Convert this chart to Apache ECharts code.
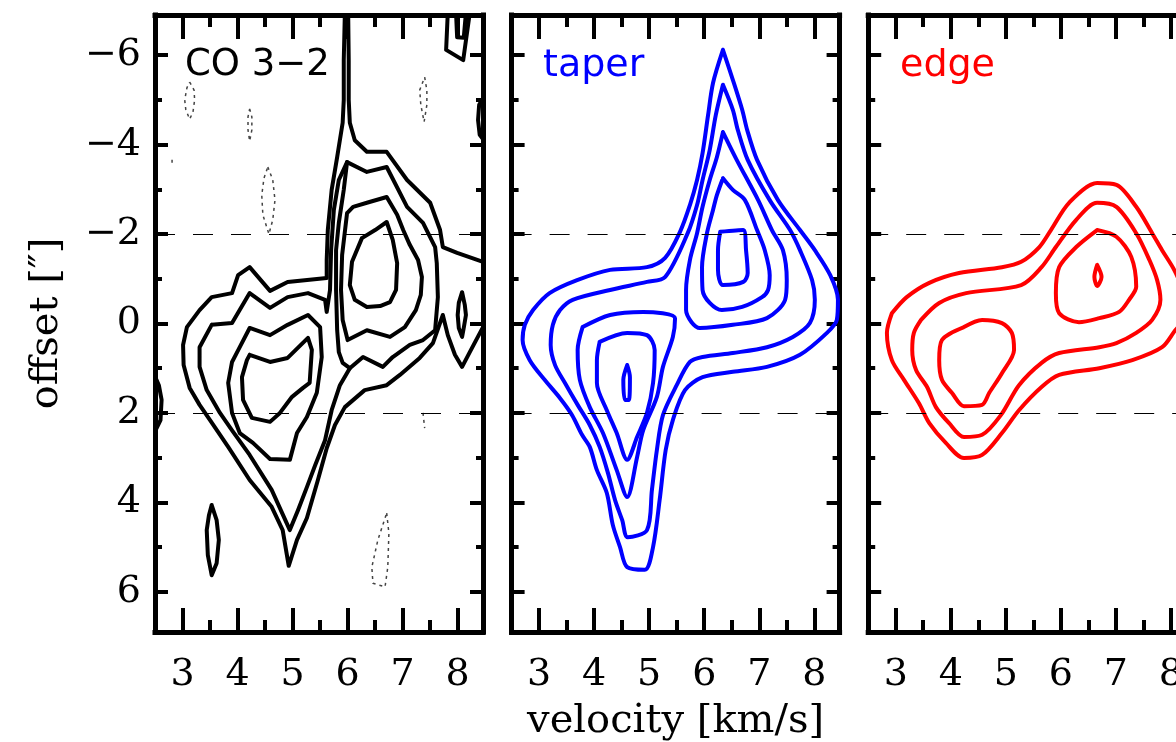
<!DOCTYPE html>
<html>
<head>
<meta charset="utf-8">
<script src="https://cdn.jsdelivr.net/npm/echarts@6/dist/echarts.min.js"></script>
<style>
  html, body { margin: 0; padding: 0; background: #fff; }
  #chart { width: 1176px; height: 742px; }
</style>
</head>
<body>
<div id="chart"></div>
<script>
// ---- Axis definitions -------------------------------------------------
const velocityRange = [2.5, 8.46];          // km/s
const offsetRange = [-6.9, 6.9];            // arcsec
const velocityTicks = [3, 4, 5, 6, 7, 8];
const velocityMinorTicks = [3.5, 4.5, 5.5, 6.5, 7.5];
const offsetTicks = [-6, -4, -2, 0, 2, 4, 6];
const offsetMinorTicks = [-5, -3, -1, 1, 3, 5];
const guideOffsets = [-2, 2];
const panelTitles = ['CO 3\u22122', 'taper', 'edge'];
const panelColors = ['#000000', '#0000ff', '#ff0000'];

// ---- CO 3-2 position-velocity contours: [velocity, offset] -------------
const co_l1 = [[8.46,-1.38],[7.99,-1.58],[7.73,-1.71],[7.68,-2.09],[7.50,-2.70],[7.08,-3.21],[6.71,-3.84],[6.35,-3.84],[6.13,-4.10],[6.04,-4.49],[6.02,-5.00],[6.02,-5.89],[6.01,-6.95],
  [5.95,-6.95],[5.93,-5.89],[5.93,-5.00],[5.91,-4.49],[5.81,-3.72],[5.71,-2.99],[5.64,-2.09],[5.62,-1.42],[5.62,-1.02],
  [4.91,-0.93],[4.59,-0.73],[4.22,-1.26],[4.01,-1.08],[3.90,-0.68],[3.53,-0.59],[3.31,-0.30],[3.08,0.08],[3.01,0.48],[3.02,0.93],[3.13,1.44],[3.31,1.82],[3.50,2.16],[3.83,2.76],[4.22,3.50],[4.62,4.10],[4.82,4.62],[4.93,5.42],
  [5.08,4.84],[5.26,4.35],[5.46,3.50],[5.62,2.79],[5.77,2.27],[5.95,1.87],[6.31,1.49],[6.71,1.38],[6.95,1.15],[7.31,0.77],[7.55,0.44],[7.73,-0.19],[7.82,0.26],[7.95,0.70],[8.08,0.97],[8.22,0.64],[8.46,0.08]];
const co_l2 = [[3.53,0.03],[3.90,-0.01],[4.22,-0.68],[4.59,-0.35],[4.91,-0.59],[5.28,-0.68],[5.59,-0.53],[5.62,-0.26],
  [5.68,-0.75],[5.70,-1.64],[5.75,-2.54],[5.84,-3.21],[5.99,-3.61],
  [6.35,-3.39],[6.71,-3.50],[7.08,-2.61],[7.37,-2.25],[7.59,-1.71],[7.62,-1.35],[7.64,-0.59],[7.59,0.15],[7.37,0.37],[7.13,0.48],[6.82,0.75],[6.64,0.97],[6.28,0.75],[6.04,1.00],
  [5.86,1.38],[5.71,1.94],[5.59,2.61],[5.41,3.17],[5.26,3.66],[5.10,4.17],[4.95,4.62],
  [4.62,3.72],[4.22,2.94],[3.90,2.39],[3.68,2.00],[3.44,1.49],[3.31,0.97],[3.31,0.53],[3.53,0.03]];
const co_l2_neck = [[5.99,-3.61],[5.93,-2.99],[5.84,-2.25],[5.79,-1.64],[5.79,-0.75],[5.81,0.15],[5.84,0.64],[5.91,0.88],[6.04,1.00]];
const co_l3_red = [[5.99,-2.47],[6.10,-2.61],[6.35,-2.70],[6.71,-2.83],[6.90,-2.43],[7.01,-2.09],[7.13,-1.76],[7.28,-1.42],[7.35,-1.04],[7.33,-0.64],[7.24,-0.30],[7.04,0.08],[6.77,0.30],[6.35,0.15],[6.00,0.37],[5.91,-0.08],[5.88,-0.75],[5.90,-1.53],[5.99,-2.47]];
const co_l4_red = [[6.26,-1.91],[6.50,-2.09],[6.71,-2.27],[6.82,-1.87],[6.90,-1.35],[6.88,-0.75],[6.77,-0.48],[6.59,-0.39],[6.35,-0.37],[6.13,-0.53],[6.04,-0.86],[6.08,-1.38],[6.26,-1.91]];
const co_l3_blue = [[4.22,0.10],[4.59,0.26],[4.91,0.03],[5.28,-0.19],[5.50,0.08],[5.53,0.75],[5.44,1.55],[5.26,2.09],[5.08,2.45],[4.95,3.05],[4.59,3.03],[4.28,2.67],[4.04,2.45],[3.90,2.00],[3.83,1.33],[3.90,0.86],[4.04,0.53],[4.22,0.10]];
const co_l4_blue = [[4.22,0.70],[4.59,0.86],[4.91,0.77],[5.28,0.32],[5.35,0.59],[5.31,1.33],[5.19,1.44],[4.99,1.64],[4.77,2.00],[4.59,2.20],[4.26,2.11],[4.10,1.71],[4.08,1.20],[4.17,0.82],[4.22,0.70]];
const co_knot_east = [[8.08,-0.70],[8.13,-0.41],[8.15,-0.19],[8.11,0.10],[8.08,0.30],[8.02,0.10],[8.00,-0.19],[8.02,-0.46],[8.08,-0.70]];
const co_knot_south = [[3.53,4.06],[3.62,4.40],[3.66,4.84],[3.62,5.36],[3.53,5.63],[3.46,5.18],[3.44,4.62],[3.48,4.29],[3.53,4.06]];
const co_rim_west = [[2.45,1.04],[2.57,1.38],[2.62,1.71],[2.60,2.16],[2.45,2.54]];
const co_corner_outer = [[7.82,-6.95],[7.79,-6.12],[8.10,-5.89],[8.22,-6.95]];
const co_corner_inner = [[7.97,-6.95],[7.99,-6.40],[8.11,-6.39],[8.15,-6.95]];
const co_rim_east = [[8.50,-5.11],[8.39,-4.89],[8.37,-4.55],[8.40,-4.22],[8.50,-4.06]];
// negative levels (dotted)
const co_neg1 = [[3.13,-5.40],[3.21,-5.22],[3.22,-5.00],[3.19,-4.73],[3.13,-4.57],[3.06,-4.78],[3.04,-5.00],[3.08,-5.27],[3.13,-5.40]];
const co_neg2 = [[4.22,-4.80],[4.26,-4.62],[4.26,-4.33],[4.22,-4.08],[4.19,-4.33],[4.19,-4.62],[4.22,-4.80]];
const co_neg3 = [[4.55,-3.50],[4.64,-3.21],[4.68,-2.76],[4.64,-2.32],[4.57,-2.00],[4.46,-2.43],[4.44,-2.87],[4.48,-3.25],[4.55,-3.50]];
const co_neg4 = [[7.40,-5.51],[7.44,-5.22],[7.44,-4.89],[7.39,-4.51],[7.33,-4.89],[7.31,-5.22],[7.40,-5.51]];
const co_neg5 = [[6.71,4.24],[6.75,4.69],[6.73,5.45],[6.68,5.89],[6.46,5.81],[6.44,5.45],[6.55,4.84],[6.71,4.24]];
const co_neg6 = [[7.37,2.00],[7.40,2.34]];
const co_neg7 = [[2.81,-3.66],[2.81,-3.52]];

// ---- "taper" model contours --------------------------------------------
const taper_1 = [[6.34,-6.12],[6.52,-5.45],[6.69,-4.78],[6.78,-4.33],[6.96,-3.66],[7.34,-2.76],[7.74,-2.09],[8.01,-1.64],[8.29,-1.08],[8.43,-0.53],[8.41,-0.08],[8.23,0.21],[7.74,0.70],[7.14,0.97],[6.52,1.08],[5.97,1.20],[5.65,1.49],[5.43,2.16],[5.30,2.83],[5.19,3.95],[5.07,5.00],[4.92,5.51],[4.60,5.45],[4.47,5.00],[4.34,4.51],[4.23,3.79],[4.05,3.28],[3.92,2.76],[3.78,2.49],[3.60,2.05],[3.38,1.67],[3.10,1.26],[2.83,0.82],[2.70,0.37],[2.74,0.03],[2.89,-0.30],[3.19,-0.68],[3.69,-0.97],[4.29,-1.20],[4.96,-1.26],[5.29,-1.47],[5.56,-2.05],[5.74,-2.65],[5.87,-3.21],[5.97,-3.81],[6.07,-4.66],[6.16,-5.38],[6.34,-6.12]];
const taper_2 = [[6.34,-5.34],[6.52,-4.78],[6.61,-4.33],[6.79,-3.66],[7.19,-2.76],[7.56,-2.09],[7.74,-1.64],[7.96,-0.97],[8.01,-0.53],[7.92,-0.01],[7.61,0.30],[7.14,0.53],[6.52,0.66],[5.97,0.75],[5.74,0.86],[5.50,1.38],[5.25,2.05],[5.14,2.83],[5.05,3.72],[4.96,4.62],[4.61,4.78],[4.51,4.40],[4.38,3.95],[4.25,3.34],[4.10,2.76],[3.92,2.27],[3.70,1.82],[3.47,1.33],[3.29,0.93],[3.21,0.48],[3.25,0.03],[3.38,-0.30],[3.61,-0.53],[4.29,-0.75],[4.96,-0.93],[5.29,-1.04],[5.70,-2.02],[5.87,-2.65],[5.97,-3.21],[6.10,-3.88],[6.21,-4.66],[6.34,-5.34]];
const taper_3 = [[6.34,-4.28],[6.59,-3.66],[6.98,-2.76],[7.23,-2.09],[7.43,-1.64],[7.50,-0.97],[7.47,-0.53],[7.14,-0.12],[6.52,0.03],[5.92,0.10],[5.77,-0.03],[5.67,-0.30],[5.67,-0.75],[5.74,-1.42],[5.87,-2.02],[5.97,-2.61],[6.10,-3.21],[6.23,-3.72],[6.34,-4.28]];
const taper_4 = [[6.34,-3.25],[6.52,-2.99],[6.74,-2.76],[6.96,-2.09],[7.10,-1.64],[7.19,-1.08],[7.16,-0.75],[7.05,-0.59],[6.69,-0.37],[6.32,-0.30],[6.10,-0.46],[5.97,-0.75],[5.96,-1.26],[6.05,-2.02],[6.16,-2.54],[6.23,-2.87],[6.34,-3.25]];
const taper_5 = [[6.29,-2.05],[6.71,-2.09],[6.76,-1.64],[6.79,-1.13],[6.71,-0.93],[6.34,-0.86],[6.25,-1.20],[6.25,-1.64],[6.29,-2.05]];
const taper_3b = [[3.79,0.08],[4.29,-0.19],[4.89,-0.26],[5.47,-0.12],[5.43,0.30],[5.25,0.97],[5.14,1.64],[4.89,2.39],[4.78,2.99],[4.60,3.88],[4.41,3.28],[4.16,2.45],[3.92,1.87],[3.74,1.26],[3.70,0.59],[3.79,0.08]];
const taper_4b = [[4.10,0.41],[4.60,0.21],[4.96,0.26],[5.10,0.59],[5.07,1.33],[4.96,2.00],[4.78,2.54],[4.60,3.05],[4.41,2.45],[4.23,1.94],[4.05,1.33],[4.05,0.82],[4.10,0.41]];
const taper_5b = [[4.60,0.93],[4.65,1.20],[4.63,1.71],[4.56,1.71],[4.53,1.26],[4.60,0.93]];

// ---- "edge" model contours ----------------------------------------------
const edge_1 = [[2.93,-0.23],[3.20,-0.59],[3.61,-0.91],[4.15,-1.13],[4.93,-1.26],[5.28,-1.38],[5.61,-1.71],[5.82,-2.09],[6.15,-2.70],[6.66,-3.14],[7.01,-3.10],[7.37,-2.61],[7.66,-2.02],[7.84,-1.64],[8.06,-1.20],[8.21,-0.75],[8.26,-0.30],[8.21,-0.03],[8.08,0.15],[7.84,0.53],[7.30,0.82],[6.70,1.00],[5.97,1.15],[5.65,1.42],[5.24,1.94],[4.93,2.45],[4.57,2.94],[4.24,3.01],[3.91,2.67],[3.61,2.23],[3.42,1.78],[3.15,1.26],[2.93,0.82],[2.84,0.21],[2.93,-0.23]];
const edge_2 = [[3.46,-0.08],[3.79,-0.46],[4.28,-0.68],[5.28,-0.86],[5.65,-1.26],[5.91,-1.71],[6.28,-2.32],[6.66,-2.70],[7.01,-2.61],[7.37,-2.02],[7.61,-1.42],[7.75,-0.97],[7.81,-0.53],[7.66,-0.08],[7.37,0.21],[7.01,0.44],[6.70,0.53],[5.97,0.66],[5.65,0.88],[5.24,1.38],[4.91,2.05],[4.57,2.49],[4.24,2.54],[3.97,2.23],[3.73,1.87],[3.57,1.42],[3.37,1.04],[3.30,0.59],[3.33,0.21],[3.46,-0.08]];
const edge_3 = [[6.66,-2.09],[7.01,-1.94],[7.28,-1.49],[7.37,-0.82],[7.24,-0.53],[7.06,-0.26],[6.70,-0.12],[6.33,-0.03],[5.97,-0.23],[5.91,-0.68],[5.97,-1.26],[6.28,-1.71],[6.66,-2.09]];
const edge_4 = [[6.66,-1.31],[6.74,-1.04],[6.66,-0.84],[6.61,-1.04],[6.66,-1.31]];
const edge_3b = [[4.24,0.08],[4.57,-0.08],[4.93,-0.01],[5.11,0.21],[5.15,0.59],[4.93,1.11],[4.70,1.55],[4.57,1.82],[4.24,1.85],[4.02,1.55],[3.84,1.26],[3.79,0.82],[3.84,0.37],[4.24,0.08]];

const panelSolid = [
  [co_l1, co_l2, co_l2_neck, co_l3_red, co_l4_red, co_l3_blue, co_l4_blue, co_knot_east, co_knot_south, co_rim_west, co_corner_outer, co_corner_inner, co_rim_east],
  [taper_1, taper_2, taper_3, taper_4, taper_5, taper_3b, taper_4b, taper_5b],
  [edge_1, edge_2, edge_3, edge_4, edge_3b]
];
const panelDotted = [
  [co_neg1, co_neg2, co_neg3, co_neg4, co_neg5, co_neg6, co_neg7],
  [],
  []
];
// observed contours are drawn as polygons, model contours are smoothed
const panelSmooth = [false, 0.3, 0.3];

// ---- Layout ---------------------------------------------------------------
const frameLeft = [155, 511.6, 868.2];
const frameTop = 15, frameW = 328, frameH = 617;
const SERIF = '"DejaVu Serif", "Liberation Serif", serif';
const SANS = '"DejaVu Sans", "Liberation Sans", sans-serif';

const minusFmt = v => (v < 0 ? '\u2212' + Math.abs(v) : String(v));

const grids = frameLeft.map(l => ({
  left: l, top: frameTop, width: frameW, height: frameH,
  outerBoundsMode: 'none', containLabel: false
}));

const xAxes = [];
const yAxes = [];
frameLeft.forEach((_, i) => {
  ['bottom', 'top'].forEach(pos => {
    [true, false].forEach(major => {
      const ax = {
        gridIndex: i, type: 'value', position: pos,
        min: velocityRange[0], max: velocityRange[1],
        axisLine: { show: major, onZero: false, lineStyle: { color: '#000', width: 5, cap: 'square' } },
        axisTick: { show: true, inside: true, length: major ? 24 : 12,
          customValues: major ? velocityTicks : velocityMinorTicks,
          lineStyle: { color: '#000', width: 4 } },
        axisLabel: { show: major && pos === 'bottom', customValues: velocityTicks,
          color: '#000', fontFamily: SERIF, fontSize: 38, margin: 24 },
        splitLine: { show: false }
      };
      if (major && pos === 'bottom' && i === 1) {
        ax.name = 'velocity [km/s]';
        ax.nameLocation = 'middle';
        ax.nameGap = 70;
        ax.nameTextStyle = { color: '#000', fontFamily: SERIF, fontSize: 40 };
      }
      xAxes.push(ax);
    });
  });
  ['left', 'right'].forEach(pos => {
    [true, false].forEach(major => {
      const ax = {
        gridIndex: i, type: 'value', position: pos, inverse: true,
        min: offsetRange[0], max: offsetRange[1],
        axisLine: { show: major, onZero: false, lineStyle: { color: '#000', width: 5, cap: 'square' } },
        axisTick: { show: true, inside: true, length: major ? 13 : 7,
          customValues: major ? offsetTicks : offsetMinorTicks,
          lineStyle: { color: '#000', width: 4 } },
        axisLabel: { show: major && pos === 'left' && i === 0, customValues: offsetTicks,
          formatter: minusFmt, color: '#000', fontFamily: SERIF, fontSize: 38, margin: 14,
          padding: [8, 0, 0, 0] },
        splitLine: { show: false }
      };
      if (major && pos === 'left' && i === 0) {
        ax.name = 'offset [\u2033]';
        ax.nameLocation = 'middle';
        ax.nameGap = 88;
        ax.nameTextStyle = { color: '#000', fontFamily: SERIF, fontSize: 40 };
      }
      yAxes.push(ax);
    });
  });
});

// ---- Series ----------------------------------------------------------------
const series = [];
panelSolid.forEach((list, i) => {
  list.forEach((pts, k) => {
    const s = {
      type: 'line', xAxisIndex: 4 * i, yAxisIndex: 4 * i,
      data: pts, symbol: 'none', showSymbol: false, smooth: panelSmooth[i],
      silent: true, animation: false, clip: true, z: 3,
      lineStyle: { color: panelColors[i], width: 4, join: 'round', cap: 'round' }
    };
    if (k === 0) {
      s.markLine = {
        silent: true, animation: false, symbol: ['none', 'none'],
        label: { show: false },
        lineStyle: { color: '#000', width: 1, type: [20, 18] },
        data: guideOffsets.map(o => ({ yAxis: o }))
      };
    }
    series.push(s);
  });
  panelDotted[i].forEach(pts => {
    series.push({
      type: 'line', xAxisIndex: 4 * i, yAxisIndex: 4 * i,
      data: pts, symbol: 'none', showSymbol: false, smooth: false,
      silent: true, animation: false, clip: true, z: 2,
      lineStyle: { color: '#444', width: 1.5, type: [3, 4] }
    });
  });
});

// ---- Panel titles ----------------------------------------------------------
const titleLeft = [185, 543, 900];
const graphic = panelTitles.map((t, i) => ({
  type: 'text', left: titleLeft[i], top: 47, silent: true,
  style: { text: t, fill: panelColors[i], font: (i === 0 ? '37px ' : '38px ') + SANS }
}));

const chart = echarts.init(document.getElementById('chart'), null, { renderer: 'canvas' });
chart.setOption({
  animation: false,
  backgroundColor: '#ffffff',
  grid: grids,
  xAxis: xAxes,
  yAxis: yAxes,
  series: series,
  graphic: graphic
});
</script>
</body>
</html>
